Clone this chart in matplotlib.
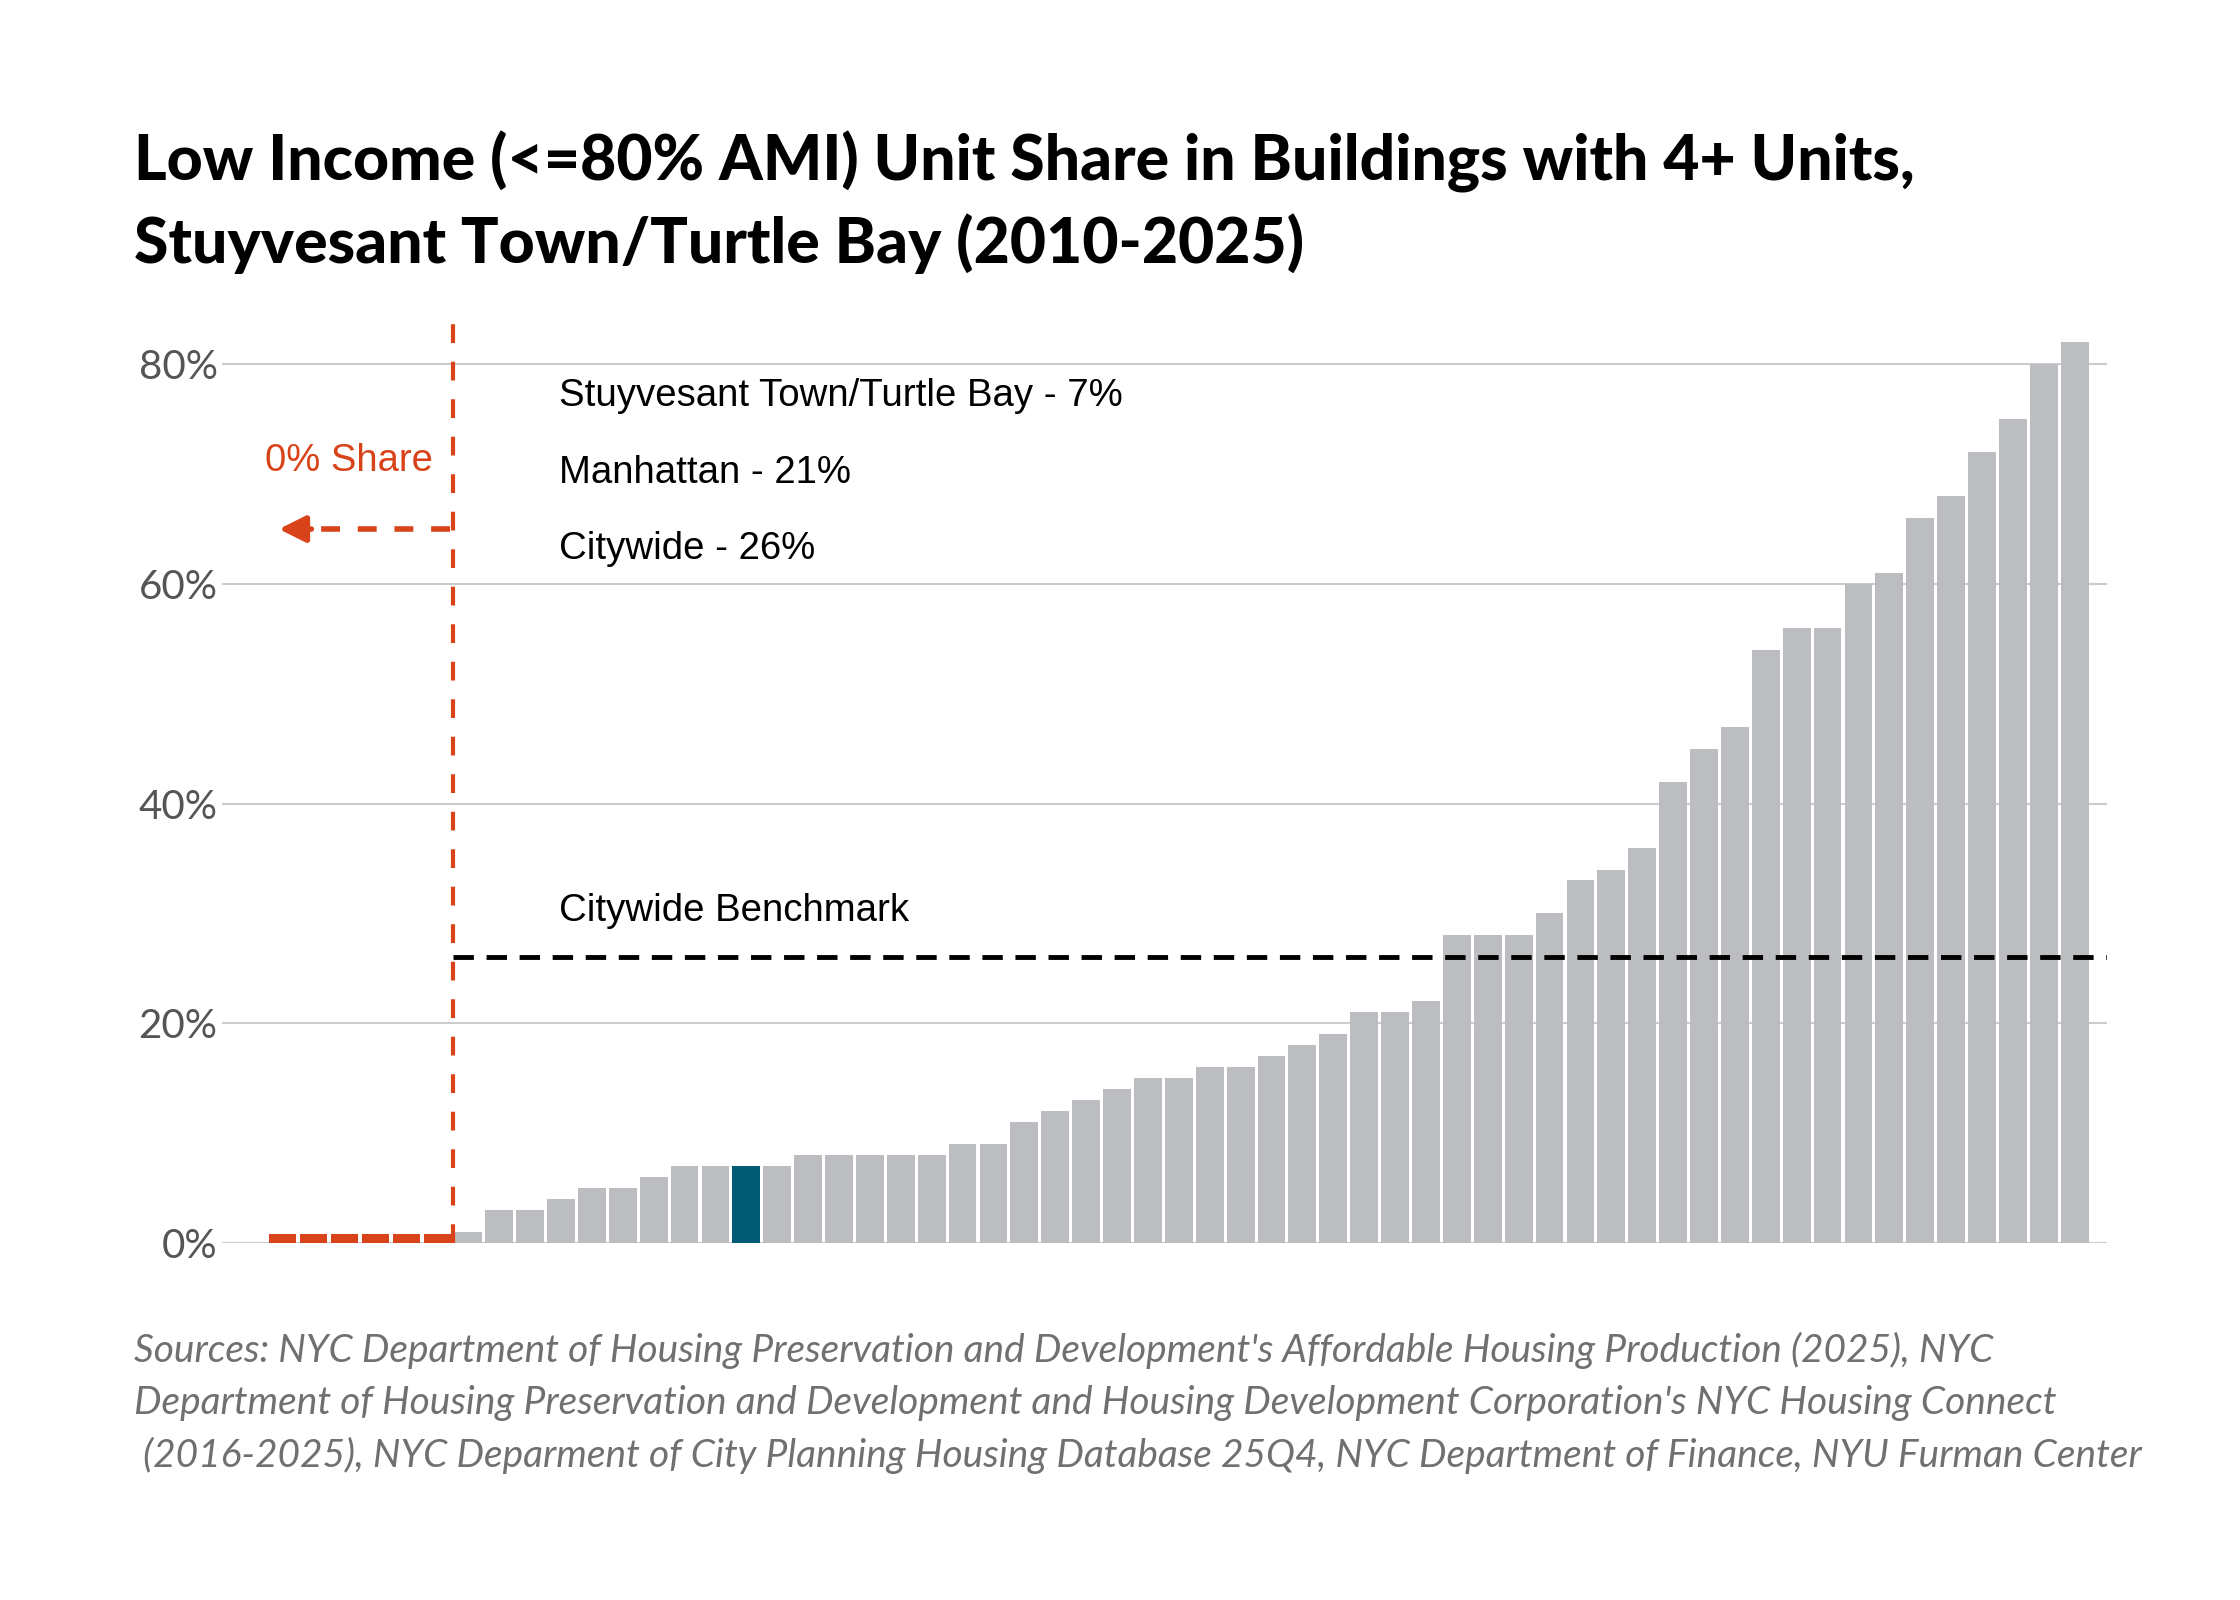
import matplotlib
matplotlib.use("Agg")
import matplotlib.pyplot as plt

# share of low income units per neighborhood, sorted (percent)
zero_count = 6
shares = [1, 3, 3, 4, 5, 5, 6, 7, 7, 7, 7, 8, 8, 8, 8, 8, 9, 9, 11, 12, 13, 14,
          15, 15, 16, 16, 17, 18, 19, 21, 21, 22, 28, 28, 28, 30, 33, 34, 36,
          42, 45, 47, 54, 56, 56, 60, 61, 66, 68, 72, 75, 80, 82]
values = [0] * zero_count + shares
highlight = zero_count + 9   # Stuyvesant Town/Turtle Bay
benchmark = 26
yticks = [0, 20, 40, 60, 80]
legend_lines = ["Stuyvesant Town/Turtle Bay - 7%", "Manhattan - 21%", "Citywide - 26%"]

title = ("Low Income (<=80% AMI) Unit Share in Buildings with 4+ Units,\n"
         "Stuyvesant Town/Turtle Bay (2010-2025)")
source = ("Sources: NYC Department of Housing Preservation and Development's Affordable Housing Production (2025), NYC\n"
          "Department of Housing Preservation and Development and Housing Development Corporation's NYC Housing Connect\n"
          " (2016-2025), NYC Deparment of City Planning Housing Database 25Q4, NYC Department of Finance, NYU Furman Center")

gray = "#bcbdc1"
teal = "#005a73"
red = "#d9431a"

fig = plt.figure(figsize=(22.4, 16), dpi=100)
ax = fig.add_axes([0.099, 0.2232, 0.8417, 0.5834])

x = list(range(len(values)))
colors = [teal if i == highlight else gray for i in x]
ax.bar(x, values, width=0.9, color=colors, zorder=2)

# zero-share neighborhoods shown as red marks on the baseline
zx = [i for i in x if values[i] == 0]
ax.bar(zx, [0.85] * len(zx), width=0.87, color=red, zorder=3)

ax.set_xlim(-1.98, len(values) + 0.05)
ax.set_ylim(0, 85)
ax.set_yticks(yticks)
ax.set_yticklabels([f"{t}%" for t in yticks], fontsize=29, color="#555555",
                   family="Lato")
ax.set_xticks([])
ax.tick_params(axis="y", length=0, pad=3)
ax.grid(axis="y", color="#cccccc", linewidth=1.5, zorder=0)
for s in ax.spines.values():
    s.set_visible(False)

edge = zero_count - 0.5
ax.plot([edge, edge], [0, 85], color=red, lw=3, dashes=(4.5, 4.5), zorder=4)
ax.plot([edge, len(values) + 0.05], [benchmark, benchmark], color="black",
        lw=3.5, dashes=(4.2, 2.6), zorder=4)

# arrow pointing at the zero-share group
tip = -0.13
ax.plot([edge - 0.1, tip + 1.0], [65, 65], color=red, lw=4, dashes=(3.4, 3.2), zorder=4)
ax.annotate("", xy=(tip, 65), xytext=(tip + 1.05, 65),
            arrowprops=dict(arrowstyle="-|>", color=red, lw=4, mutation_scale=40,
                            shrinkA=0, shrinkB=0))
ax.text(4.86, 71.2, "0% Share", color=red, fontsize=27.5, ha="right", va="center",
        family="Liberation Sans")

for i, line in enumerate(legend_lines):
    ax.text(8.93, 77.1 - i * 6.95, line, fontsize=27.6, va="center",
            family="Liberation Sans")
ax.text(8.93, 30.2, "Citywide Benchmark", fontsize=27.6, va="center",
        family="Liberation Sans")

fig.text(0.06, 0.918, title, fontsize=45, fontweight="black", family="Lato",
         va="top", linespacing=1.4)
fig.text(0.06, 0.1675, source, fontsize=28, style="italic", fontweight="normal",
         color="#707070", family="Lato", va="top", linespacing=1.53)

fig.savefig("out.png", dpi=100, facecolor="white")
